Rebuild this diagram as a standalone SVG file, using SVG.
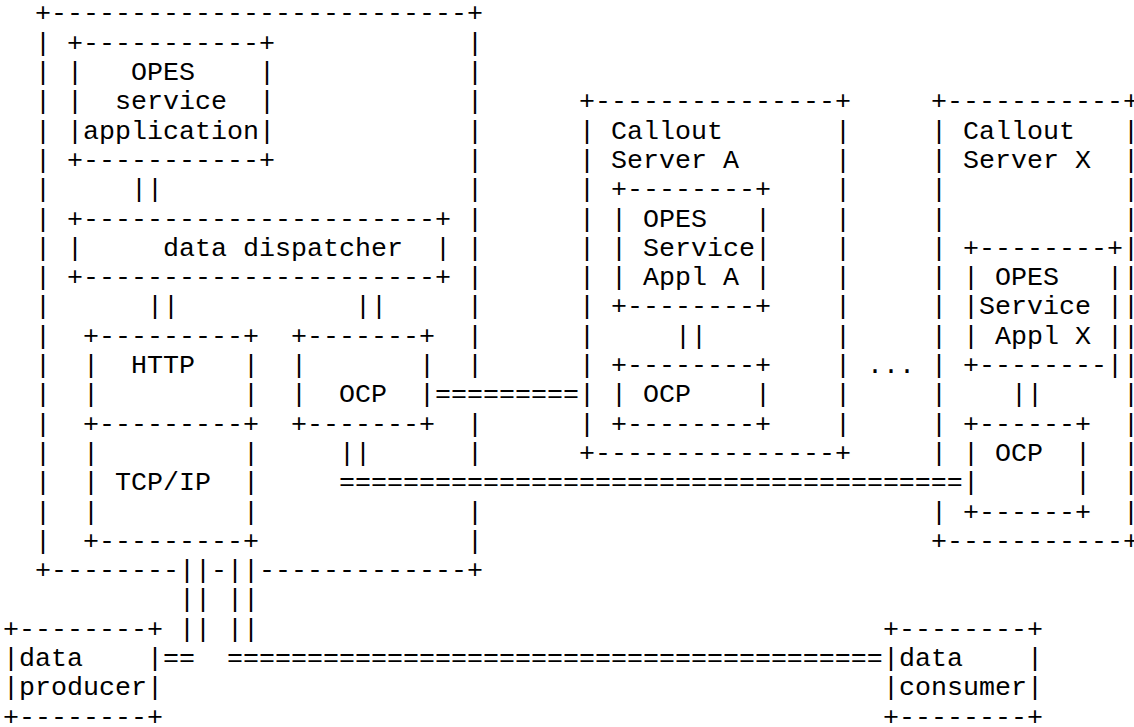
<svg xmlns="http://www.w3.org/2000/svg" width="1134" height="727" viewBox="0 0 1134 727">
<style>
text{font-family:"Liberation Mono","DejaVu Sans Mono",monospace;font-size:26.667px;fill:#000}
</style>
<rect width="1134" height="727" fill="#fff"/>
<g id="opes-processor">
<text x="35" y="21.4">+--------------------------+</text>
<text><tspan x="35" y="50.7">|</tspan><tspan x="35" y="80">|</tspan><tspan x="35" y="109.3">|</tspan><tspan x="35" y="138.6">|</tspan><tspan x="35" y="167.9">|</tspan><tspan x="35" y="197.2">|</tspan><tspan x="35" y="226.5">|</tspan><tspan x="35" y="255.8">|</tspan><tspan x="35" y="285.1">|</tspan><tspan x="35" y="314.4">|</tspan><tspan x="35" y="343.7">|</tspan><tspan x="35" y="373">|</tspan><tspan x="35" y="402.3">|</tspan><tspan x="35" y="431.6">|</tspan><tspan x="35" y="460.9">|</tspan><tspan x="35" y="490.2">|</tspan><tspan x="35" y="519.5">|</tspan><tspan x="35" y="548.8">|</tspan></text>
<text><tspan x="467" y="50.7">|</tspan><tspan x="467" y="80">|</tspan><tspan x="467" y="109.3">|</tspan><tspan x="467" y="138.6">|</tspan><tspan x="467" y="167.9">|</tspan><tspan x="467" y="197.2">|</tspan><tspan x="467" y="226.5">|</tspan><tspan x="467" y="255.8">|</tspan><tspan x="467" y="285.1">|</tspan><tspan x="467" y="314.4">|</tspan><tspan x="467" y="343.7">|</tspan><tspan x="467" y="373">|</tspan><tspan x="467" y="431.6">|</tspan><tspan x="467" y="460.9">|</tspan><tspan x="467" y="519.5">|</tspan><tspan x="467" y="548.8">|</tspan></text>
<text x="35" y="578.1">+--------</text>
<text x="211" y="578.1">-</text>
<text x="259" y="578.1">-------------+</text>
</g>
<g id="opes-service-application">
<text x="67" y="50.7">+-----------+</text>
<text><tspan x="67" y="80">|</tspan><tspan x="67" y="109.3">|</tspan><tspan x="67" y="138.6">|</tspan></text>
<text><tspan x="259" y="80">|</tspan><tspan x="259" y="109.3">|</tspan><tspan x="259" y="138.6">|</tspan></text>
<text x="131" y="80">OPES</text>
<text x="115" y="109.3">service</text>
<text x="83" y="138.6">application</text>
<text x="67" y="167.9">+-----------+</text>
</g>
<g id="data-dispatcher">
<text x="67" y="226.5">+----------------------+</text>
<text x="67" y="255.8">|</text>
<text x="163" y="255.8">data dispatcher</text>
<text x="435" y="255.8">|</text>
<text x="67" y="285.1">+----------------------+</text>
</g>
<g id="http">
<text x="83" y="343.7">+---------+</text>
<text><tspan x="83" y="373">|</tspan><tspan x="83" y="402.3">|</tspan></text>
<text><tspan x="243" y="373">|</tspan><tspan x="243" y="402.3">|</tspan></text>
<text x="131" y="373">HTTP</text>
<text x="83" y="431.6">+---------+</text>
</g>
<g id="tcp-ip">
<text><tspan x="83" y="460.9">|</tspan><tspan x="83" y="490.2">|</tspan><tspan x="83" y="519.5">|</tspan></text>
<text><tspan x="243" y="460.9">|</tspan><tspan x="243" y="490.2">|</tspan><tspan x="243" y="519.5">|</tspan></text>
<text x="115" y="490.2">TCP/IP</text>
<text x="83" y="548.8">+---------+</text>
</g>
<g id="ocp-processor">
<text x="291" y="343.7">+-------+</text>
<text><tspan x="291" y="373">|</tspan><tspan x="291" y="402.3">|</tspan></text>
<text><tspan x="419" y="373">|</tspan><tspan x="419" y="402.3">|</tspan></text>
<text x="339" y="402.3">OCP</text>
<text x="291" y="431.6">+-------+</text>
</g>
<g id="callout-server-a">
<text x="579" y="109.3">+---------------+</text>
<text><tspan x="579" y="138.6">|</tspan><tspan x="579" y="167.9">|</tspan><tspan x="579" y="197.2">|</tspan><tspan x="579" y="226.5">|</tspan><tspan x="579" y="255.8">|</tspan><tspan x="579" y="285.1">|</tspan><tspan x="579" y="314.4">|</tspan><tspan x="579" y="343.7">|</tspan><tspan x="579" y="373">|</tspan><tspan x="579" y="402.3">|</tspan><tspan x="579" y="431.6">|</tspan></text>
<text><tspan x="835" y="138.6">|</tspan><tspan x="835" y="167.9">|</tspan><tspan x="835" y="197.2">|</tspan><tspan x="835" y="226.5">|</tspan><tspan x="835" y="255.8">|</tspan><tspan x="835" y="285.1">|</tspan><tspan x="835" y="314.4">|</tspan><tspan x="835" y="343.7">|</tspan><tspan x="835" y="373">|</tspan><tspan x="835" y="402.3">|</tspan><tspan x="835" y="431.6">|</tspan></text>
<text x="611" y="138.6">Callout</text>
<text x="611" y="167.9">Server A</text>
<text x="579" y="460.9">+---------------+</text>
</g>
<g id="service-appl-a">
<text x="611" y="197.2">+--------+</text>
<text><tspan x="611" y="226.5">|</tspan><tspan x="611" y="255.8">|</tspan><tspan x="611" y="285.1">|</tspan></text>
<text><tspan x="755" y="226.5">|</tspan><tspan x="755" y="255.8">|</tspan><tspan x="755" y="285.1">|</tspan></text>
<text x="643" y="226.5">OPES</text>
<text x="643" y="255.8">Service</text>
<text x="643" y="285.1">Appl A</text>
<text x="611" y="314.4">+--------+</text>
</g>
<g id="ocp-a">
<text x="611" y="373">+--------+</text>
<text x="611" y="402.3">|</text>
<text x="643" y="402.3">OCP</text>
<text x="755" y="402.3">|</text>
<text x="611" y="431.6">+--------+</text>
</g>
<g id="callout-server-x">
<text x="931" y="109.3">+-----------+</text>
<text><tspan x="931" y="138.6">|</tspan><tspan x="931" y="167.9">|</tspan><tspan x="931" y="197.2">|</tspan><tspan x="931" y="226.5">|</tspan><tspan x="931" y="255.8">|</tspan><tspan x="931" y="285.1">|</tspan><tspan x="931" y="314.4">|</tspan><tspan x="931" y="343.7">|</tspan><tspan x="931" y="373">|</tspan><tspan x="931" y="402.3">|</tspan><tspan x="931" y="431.6">|</tspan><tspan x="931" y="460.9">|</tspan><tspan x="931" y="519.5">|</tspan></text>
<text><tspan x="1123" y="138.6">|</tspan><tspan x="1123" y="167.9">|</tspan><tspan x="1123" y="197.2">|</tspan><tspan x="1123" y="226.5">|</tspan><tspan x="1123" y="255.8">|</tspan><tspan x="1123" y="285.1">|</tspan><tspan x="1123" y="314.4">|</tspan><tspan x="1123" y="343.7">|</tspan><tspan x="1123" y="373">|</tspan><tspan x="1123" y="402.3">|</tspan><tspan x="1123" y="431.6">|</tspan><tspan x="1123" y="460.9">|</tspan><tspan x="1123" y="490.2">|</tspan><tspan x="1123" y="519.5">|</tspan></text>
<text x="963" y="138.6">Callout</text>
<text x="963" y="167.9">Server X</text>
<text x="931" y="548.8">+-----------+</text>
</g>
<g id="service-appl-x">
<text x="963" y="255.8">+--------+</text>
<text><tspan x="963" y="285.1">|</tspan><tspan x="963" y="314.4">|</tspan><tspan x="963" y="343.7">|</tspan></text>
<text><tspan x="1107" y="285.1">|</tspan><tspan x="1107" y="314.4">|</tspan><tspan x="1107" y="343.7">|</tspan></text>
<text x="995" y="285.1">OPES</text>
<text x="979" y="314.4">Service</text>
<text x="995" y="343.7">Appl X</text>
<text x="963" y="373">+--------|</text>
</g>
<g id="ocp-x">
<text x="963" y="431.6">+------+</text>
<text><tspan x="963" y="460.9">|</tspan><tspan x="963" y="490.2">|</tspan></text>
<text><tspan x="1075" y="460.9">|</tspan><tspan x="1075" y="490.2">|</tspan></text>
<text x="995" y="460.9">OCP</text>
<text x="963" y="519.5">+------+</text>
</g>
<g id="data-producer">
<text x="3" y="636.7">+--------+</text>
<text><tspan x="3" y="666">|</tspan><tspan x="3" y="695.3">|</tspan></text>
<text><tspan x="147" y="666">|</tspan><tspan x="147" y="695.3">|</tspan></text>
<text x="19" y="666">data</text>
<text x="19" y="695.3">producer</text>
<text x="3" y="724.6">+--------+</text>
</g>
<g id="data-consumer">
<text x="883" y="636.7">+--------+</text>
<text><tspan x="883" y="666">|</tspan><tspan x="883" y="695.3">|</tspan></text>
<text><tspan x="1027" y="666">|</tspan><tspan x="1027" y="695.3">|</tspan></text>
<text x="899" y="666">data</text>
<text x="899" y="695.3">consumer</text>
<text x="883" y="724.6">+--------+</text>
</g>
<g id="ellipsis">
<text x="867" y="373">...</text>
</g>
<g id="connectors">
<text x="131" y="197.2">||</text>
<text x="147" y="314.4">||</text>
<text x="355" y="314.4">||</text>
<text x="675" y="343.7">||</text>
<text x="435" y="402.3">=========</text>
<text x="1011" y="402.3">||</text>
<text x="339" y="460.9">||</text>
<text x="339" y="490.2">=======================================</text>
<text><tspan x="179" y="578.1">||</tspan><tspan x="179" y="607.4">||</tspan><tspan x="179" y="636.7">||</tspan></text>
<text><tspan x="227" y="578.1">||</tspan><tspan x="227" y="607.4">||</tspan><tspan x="227" y="636.7">||</tspan></text>
<text x="163" y="666">==</text>
<text x="227" y="666">=========================================</text>
</g>
</svg>
